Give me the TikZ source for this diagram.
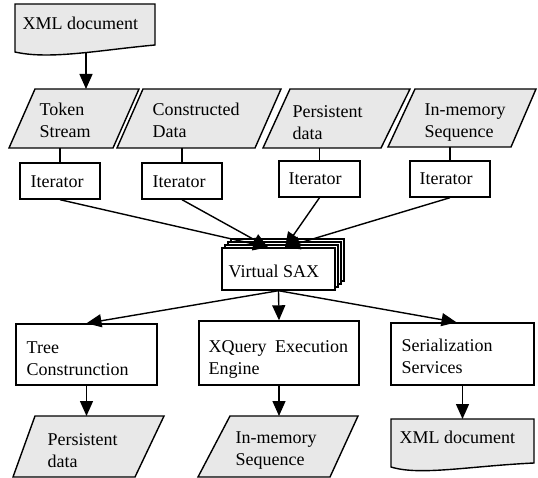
\documentclass[tikz,border=0pt]{standalone}
\usepackage{fontspec}
\setmainfont{Liberation Serif}
\usetikzlibrary{arrows.meta,calc}
\definecolor{datagray}{HTML}{E8E8E8}
\begin{document}
\begin{tikzpicture}[x=1pt,y=-1pt,
  line width=1.4pt,
  box/.style={draw, fill=white, rectangle, inner sep=0pt},
  data/.style={draw, fill=datagray, line join=miter},
  lbl/.style={anchor=north west, inner sep=0pt, align=left, font=\fontsize{18}{22}\selectfont},
  arr/.style={-{Triangle[length=15pt,width=13pt]}}
]
\useasboundingbox (0,0) rectangle (538,478);

% ---- top XML document
\draw[data] (15,4) -- (155,4) -- (155,45) .. controls (100,50) and (50,60) .. (15,52) -- cycle;
\node[lbl] (xmltop) at (22,16.7) {XML document};
\coordinate (xmltopb) at (86,53.5);

% ---- data sources (parallelograms)
\draw[data] (35,89) -- (139,89) -- (113,148) -- (9,148) -- cycle;
\draw[data] (143,89) -- (281,89) -- (255,148) -- (117,148) -- cycle;
\draw[data] (290,89) -- (410,89) -- (381,148) -- (263,148) -- cycle;
\draw[data] (415,89) -- (536,89) -- (511,147) -- (388,147) -- cycle;
\coordinate (p1t) at (86,89);
\coordinate (p1b) at (60,148);
\coordinate (p2b) at (182,148);
\coordinate (p3b) at (319.5,148);
\coordinate (p4b) at (450,147);
\node[lbl] (t1) at (39,102.7) {Token\\Stream};
\node[lbl] (t2) at (152,102.7) {Constructed\\Data};
\node[lbl] (t3) at (292,104.7) {Persistent\\data};
\node[lbl] (t4) at (424,102.7) {In-memory\\Sequence};

\draw[arr] (xmltopb) -- (p1t);

% ---- iterators
\node[box, minimum width=80pt, minimum height=36pt] (it1) at (60,181) {};
\node[box, minimum width=80pt, minimum height=36pt] (it2) at (182,181) {};
\node[box, minimum width=81pt, minimum height=36pt] (it3) at (319.5,179) {};
\node[box, minimum width=80pt, minimum height=36pt] (it4) at (450,179) {};
\node[lbl] (it1l) at (30,174.7) {Iterator};
\node[lbl] (it2l) at (152,174.7) {Iterator};
\node[lbl] (it3l) at (288,171.7) {Iterator};
\node[lbl] (it4l) at (419,171.7) {Iterator};
\draw (p1b) -- (it1.north);
\draw (p2b) -- (it2.north);
\draw (p3b) -- (it3.north);
\draw (p4b) -- (it4.north);

% ---- Virtual SAX (stacked)
\node[box, minimum width=113pt, minimum height=42pt] (sax3) at (287.5,260) {};
\node[box, minimum width=113pt, minimum height=42pt] (sax2) at (284.5,263) {};
\node[box, minimum width=113pt, minimum height=42pt] (sax1) at (281.5,266) {};
\node[box, minimum width=113pt, minimum height=42pt] (sax) at (278.5,269) {};
\node[lbl] (saxl) at (228,264.7) {Virtual SAX};
\coordinate (in1) at ($(sax.north)+(-10.5,0)$);
\coordinate (in2) at ($(sax.north)+(6.5,0)$);
\draw[arr] (it1.south) -- (in1);
\draw[arr] (it2.south) -- (in1);
\draw[arr] (it3.south) -- (in2);
\draw[arr] (it4.south) -- (in2);

% ---- consumers
\node[box, minimum width=141pt, minimum height=61pt] (tree) at (86.5,354.5) {};
\node[box, minimum width=160pt, minimum height=64pt] (xq) at (279,353) {};
\node[box, minimum width=143pt, minimum height=62pt] (ser) at (462.5,354) {};
\node[lbl] (treel) at (26,340.7) {Tree\\Construnction};
\node[lbl] (xql) at (208,339.7) {XQuery\hspace{4pt} Execution\\Engine};
\node[lbl] (serl) at (401,338.7) {Serialization\\Services};
\coordinate (sert) at ($(ser.north)+(-6,0)$);
\draw[arr] (sax.south) -- (tree.north);
\draw[arr] (sax.south) -- (xq.north);
\draw[arr] (sax.south) -- (sert);

% ---- outputs
\draw[data] (35,416) -- (164,416) -- (135,477) -- (13,477) -- cycle;
\draw[data] (230,416) -- (358,416) -- (330,477) -- (198,477) -- cycle;
\draw[data] (391,419) -- (534,419) -- (534,463) .. controls (470,466) and (420,476) .. (391,467) -- cycle;
\coordinate (b1t) at (86.5,416);
\coordinate (b2t) at (279,416);
\coordinate (b3t) at (462.5,419);
\node[lbl] (b1l) at (47,432.7) {Persistent\\data};
\node[lbl] (b2l) at (235,430.7) {In-memory\\Sequence};
\node[lbl] (b3l) at (399,430.7) {XML document};
\draw[arr] (tree.south) -- (b1t);
\draw[arr] (xq.south) -- (b2t);
\draw[arr] (ser.south) -- (b3t);
\end{tikzpicture}
\end{document}
